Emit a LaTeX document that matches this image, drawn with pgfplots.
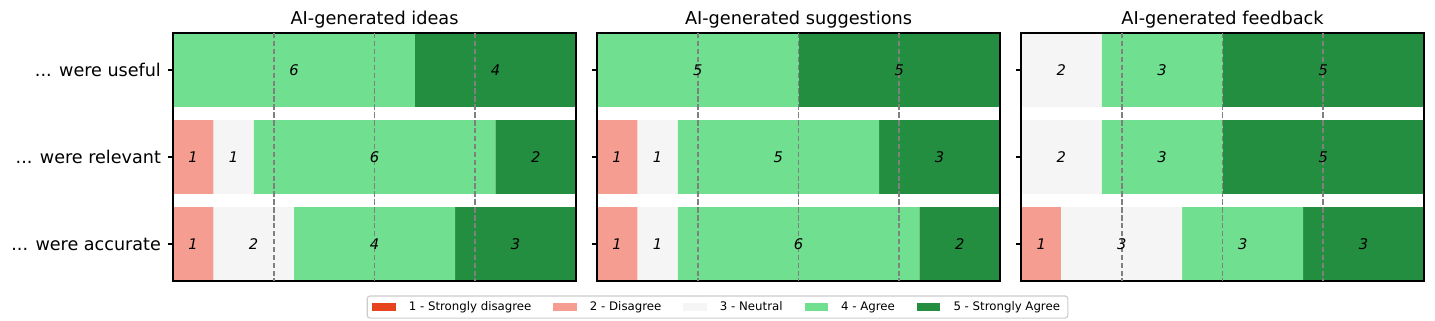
\documentclass[border=0pt]{standalone}
\usepackage{pgfplots}
\usepackage{pgfplotstable}
\pgfplotsset{compat=1.18}
\usepackage{fontspec}
\setmainfont{DejaVu Sans}
\definecolor{csd}{HTML}{E6431F}
\definecolor{cd}{HTML}{F69D92}
\definecolor{cn}{HTML}{F5F5F5}
\definecolor{ca}{HTML}{70DF8F}
\definecolor{csa}{HTML}{238E3F}
\newcommand\ddd{.\kern0pt.\kern0pt.}

\pgfplotstableread{
cat sd d n a sa
0 0 0 0 6 4
1 0 1 1 6 2
2 0 1 2 4 3
}\tideas
\pgfplotstableread{
cat sd d n a sa
0 0 0 0 5 5
1 0 1 1 5 3
2 0 1 1 6 2
}\tsugg
\pgfplotstableread{
cat sd d n a sa
0 0 0 2 3 5
1 0 0 2 3 5
2 0 1 3 3 3
}\tfeed

\pgfplotsset{
  likert/.style={
    scale only axis, width=290.2bp, height=178.56bp, anchor=north west,
    xbar stacked, bar width=0.85,
    xmin=0, xmax=10, ymin=-0.425, ymax=2.425, y dir=reverse,
    enlargelimits=false,
    xtick=\empty, extra x ticks={2.5,5,7.5}, extra x tick labels={},
    extra x tick style={grid=major, major tick length=0pt},
    major grid style={black!50, line width=1.3bp, dash pattern=on 3.9bp off 1.8bp},
    ytick={0,1,2}, ytick pos=left, tick align=outside, major tick length=3.7bp,
    tick style={black, line width=0.85bp},
    axis line style={black, line width=0.85bp},
    axis on top,
    every axis title/.style={at={(0.5,1)}, anchor=base, yshift=5.8bp, font=\fontsize{12.8}{15}\selectfont, inner sep=0pt},
    yticklabel style={font=\fontsize{12.7}{15}\selectfont, xshift=-1.5bp},
    legend image code/.code={\fill[#1, sharp corners] (0bp,-2.6bp) rectangle (16.8bp,2.6bp);},
  },
  lab/.style={
    scale only axis, width=290.2bp, height=178.56bp, anchor=north west,
    xmin=0, xmax=10, ymin=-0.425, ymax=2.425, y dir=reverse, hide axis,
    enlargelimits=false,
  },
  labplot/.style={only marks, mark=none, point meta=explicit symbolic, nodes near coords,
    every node near coord/.append style={anchor=center, font=\itshape\fontsize{10.6}{12}\selectfont, text=black}},
}

\begin{document}
\begin{tikzpicture}
\path[use as bounding box] (0,0) rectangle (1033.2bp,-231.12bp);

% Panel 1
\begin{axis}[likert, at={(124.56bp,-23.76bp)}, title={AI-generated ideas},
  yticklabels={\ddd{} were useful,\ddd{} were relevant,\ddd{} were accurate}]
\addplot[fill=csd, draw=none] table[x=sd, y=cat] \tideas;
\addplot[fill=cd, draw=none] table[x=d, y=cat] \tideas;
\addplot[fill=cn, draw=none] table[x=n, y=cat] \tideas;
\addplot[fill=ca, draw=none] table[x=a, y=cat] \tideas;
\addplot[fill=csa, draw=none] table[x=sa, y=cat] \tideas;
\end{axis}
\begin{axis}[lab, at={(124.56bp,-23.76bp)}]
\addplot[labplot] coordinates {(3,0)[6] (8,0)[4] (0.5,1)[1] (1.5,1)[1] (5,1)[6] (9,1)[2] (0.5,2)[1] (2,2)[2] (5,2)[4] (8.5,2)[3]};
\end{axis}

% Panel 2
\begin{axis}[likert, at={(429.84bp,-23.76bp)}, title={AI-generated suggestions},
  yticklabels={},
  legend style={at={(0.299,-0.105)}, anchor=center, legend columns=5,
    draw=black!20, line width=0.8bp, rounded corners=2bp,
    font=\fontsize{8.5}{10}\selectfont, inner xsep=3.6bp, inner ysep=2bp,
    cells={inner xsep=0bp, inner ysep=1bp},
    /tikz/every odd column/.append style={column sep=7.6bp},
    /tikz/every even column/.append style={column sep=13.8bp}}]
\addplot[fill=csd, draw=none] table[x=sd, y=cat] \tsugg;
\addplot[fill=cd, draw=none] table[x=d, y=cat] \tsugg;
\addplot[fill=cn, draw=none] table[x=n, y=cat] \tsugg;
\addplot[fill=ca, draw=none] table[x=a, y=cat] \tsugg;
\addplot[fill=csa, draw=none] table[x=sa, y=cat] \tsugg;
\legend{1 - Strongly disagree, 2 - Disagree, 3 - Neutral, 4 - Agree, 5 - Strongly Agree}
\end{axis}
\begin{axis}[lab, at={(429.84bp,-23.76bp)}]
\addplot[labplot] coordinates {(2.5,0)[5] (7.5,0)[5] (0.5,1)[1] (1.5,1)[1] (4.5,1)[5] (8.5,1)[3] (0.5,2)[1] (1.5,2)[1] (5,2)[6] (9,2)[2]};
\end{axis}

% Panel 3
\begin{axis}[likert, at={(735.12bp,-23.76bp)}, title={AI-generated feedback},
  yticklabels={}]
\addplot[fill=csd, draw=none] table[x=sd, y=cat] \tfeed;
\addplot[fill=cd, draw=none] table[x=d, y=cat] \tfeed;
\addplot[fill=cn, draw=none] table[x=n, y=cat] \tfeed;
\addplot[fill=ca, draw=none] table[x=a, y=cat] \tfeed;
\addplot[fill=csa, draw=none] table[x=sa, y=cat] \tfeed;
\end{axis}
\begin{axis}[lab, at={(735.12bp,-23.76bp)}]
\addplot[labplot] coordinates {(1,0)[2] (3.5,0)[3] (7.5,0)[5] (1,1)[2] (3.5,1)[3] (7.5,1)[5] (0.5,2)[1] (2.5,2)[3] (5.5,2)[3] (8.5,2)[3]};
\end{axis}
\end{tikzpicture}
\end{document}
